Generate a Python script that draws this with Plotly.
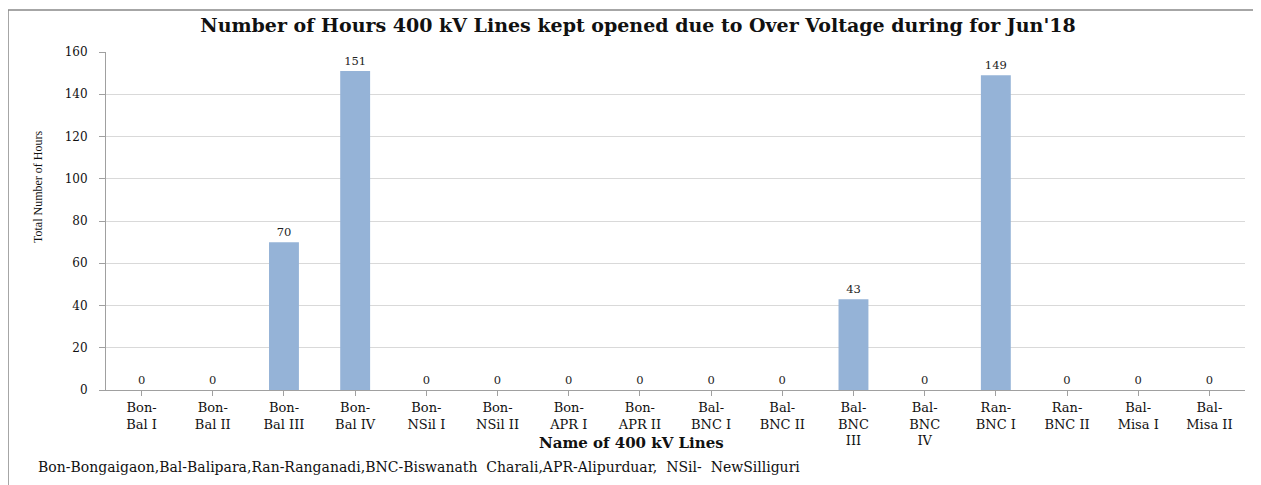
import plotly.graph_objects as go

categories = ["Bon-<br>Bal I", "Bon-<br>Bal II", "Bon-<br>Bal III", "Bon-<br>Bal IV",
              "Bon-<br>NSil I", "Bon-<br>NSil II", "Bon-<br>APR I", "Bon-<br>APR II",
              "Bal-<br>BNC I", "Bal-<br>BNC II", "Bal-<br>BNC<br>III", "Bal-<br>BNC<br>IV",
              "Ran-<br>BNC I", "Ran-<br>BNC II", "Bal-<br>Misa I", "Bal-<br>Misa II"]
hours = [0, 0, 70, 151, 0, 0, 0, 0, 0, 0, 43, 0, 149, 0, 0, 0]
y_ticks = [0, 20, 40, 60, 80, 100, 120, 140, 160]

wide = "DejaVu Serif, serif"
serif = "Liberation Serif, Times New Roman, serif"

# page body has an 8px margin; figure sized to fit
W, H = 1253, 477
L, T = 98, 44
PW, PH = 1139, 338


def xp(px):  # original image x -> paper
    return (px - 106) / PW


def yp(py):  # original image y -> paper
    return (390 - py) / PH


fig = go.Figure(go.Bar(
    x=list(range(len(categories))), y=hours,
    marker=dict(color="#95B3D7", line=dict(width=0)),
    width=0.42,
    text=[str(v) for v in hours], textposition="outside",
    textfont=dict(family=wide, size=11.5, color="#222"),
    cliponaxis=False,
))

fig.update_layout(
    width=W, height=H,
    margin=dict(l=L, r=W - L - PW, t=T, b=H - T - PH, autoexpand=False),
    paper_bgcolor="white", plot_bgcolor="white",
    showlegend=False,
    font=dict(family=wide, color="#111"),
    title=dict(text="<b>Number of Hours 400 kV Lines kept opened due to Over Voltage during for Jun'18</b>",
               x=xp(638), xanchor="center", xref="paper", y=1 - 17 / H, yref="container", yanchor="middle",
               font=dict(family=wide, size=19, color="#111")),
    xaxis=dict(
        tickmode="array", tickvals=list(range(len(categories))), ticktext=categories,
        range=[-0.5, 15.5], showgrid=False,
        showline=True, linecolor="#a0a0a0", linewidth=1,
        ticks="outside", ticklen=5, tickcolor="#a0a0a0", tickson="boundaries",
        tickfont=dict(family=wide, size=13, color="#111"),
        automargin=False,
    ),
    yaxis=dict(
        range=[0, 160], tickvals=y_ticks,
        showgrid=True, gridcolor="#d9d9d9", gridwidth=1,
        showline=True, linecolor="#a0a0a0", linewidth=1,
        ticks="outside", ticklen=6, tickcolor="#a0a0a0", ticklabelstandoff=9,
        tickfont=dict(family=wide, size=12, color="#111"),
        zeroline=False, automargin=False,
    ),
)

# border lines (left and top)
fig.add_shape(type="line", xref="paper", yref="paper",
              x0=xp(8), x1=xp(8), y0=yp(10), y1=yp(500),
              line=dict(color="#888", width=1.5))
fig.add_shape(type="line", xref="paper", yref="paper",
              x0=xp(8), x1=xp(1275), y0=yp(10), y1=yp(10),
              line=dict(color="#888", width=1.5))

# y axis title
fig.add_annotation(text="Total Number of Hours", textangle=-90,
                   xref="paper", yref="paper", x=xp(38), y=yp(187),
                   xanchor="center", yanchor="middle", showarrow=False,
                   font=dict(family=serif, size=12, color="#111"))

# x axis title
fig.add_annotation(text="<b>Name of 400 kV Lines</b>",
                   xref="paper", yref="paper", x=xp(631), y=yp(443),
                   xanchor="center", yanchor="middle", showarrow=False,
                   font=dict(family=wide, size=15, color="#111"))

# footnote
fig.add_annotation(text="Bon-Bongaigaon,Bal-Balipara,Ran-Ranganadi,BNC-Biswanath  Charali,APR-Alipurduar,  NSil-  NewSilliguri",
                   xref="paper", yref="paper", x=xp(36), y=yp(467),
                   xanchor="left", yanchor="middle", showarrow=False,
                   font=dict(family=wide, size=14, color="#111"))

fig.write_html("out.html")
